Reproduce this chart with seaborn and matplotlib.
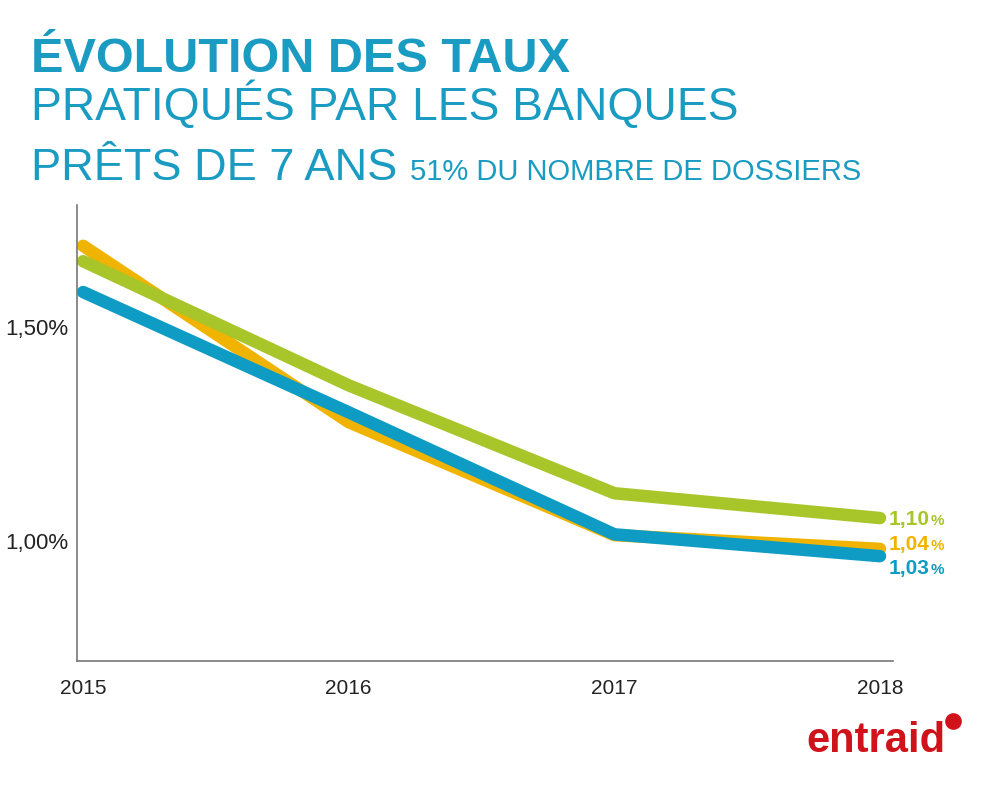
import pandas as pd
import seaborn as sns
import matplotlib.pyplot as plt
from matplotlib.lines import Line2D

years = [2015, 2016, 2017, 2018]
serie_jaune = [1.69, 1.278, 1.014, 0.982]
serie_verte = [1.654, 1.364, 1.112, 1.054]
serie_bleue = [1.582, 1.301, 1.016, 0.965]
end_labels = ["1,04", "1,10", "1,03"]
y_ticks = [1.0, 1.5]
y_tick_labels = ["1,00%", "1,50%"]

TEAL = "#1a9cc2"
colors = {"jaune": "#f0b400", "verte": "#a8c52a", "bleue": "#0e9cc4"}

df = pd.DataFrame({
    "annee": years * 3,
    "taux": serie_jaune + serie_verte + serie_bleue,
    "serie": ["jaune"] * 4 + ["verte"] * 4 + ["bleue"] * 4,
})

sns.set_style("white")
plt.rcParams['font.family'] = ['Liberation Sans', 'DejaVu Sans']

fig = plt.figure(figsize=(10, 7.86), dpi=100)
ax = fig.add_axes([0.077, 0.159, 0.816, 0.58])

sns.lineplot(data=df, x="annee", y="taux", hue="serie", hue_order=["jaune", "verte", "bleue"],
             palette=colors, linewidth=9, legend=False, ax=ax,
             solid_capstyle="round", solid_joinstyle="round")

ax.set_xlim(2014.977, 2018.049)
ax.set_ylim(0.72, 1.785)
ax.set_xticks(years)
ax.set_xticklabels([str(y) for y in years], fontsize=15, color="#222222")
ax.set_yticks(y_ticks)
ax.set_yticklabels(y_tick_labels, fontsize=16, color="#222222")
ax.tick_params(axis="x", length=5, width=1, color="#666666", pad=8)
ax.tick_params(axis="y", length=0, pad=6)
ax.set_xlabel("")
ax.set_ylabel("")
for side in ["top", "right"]:
    ax.spines[side].set_visible(False)
for side in ["left", "bottom"]:
    ax.spines[side].set_color("#777777")
    ax.spines[side].set_linewidth(1.2)

# end labels (offsets in points, labels stacked as in the original)
series = [("jaune", serie_jaune, 3), ("verte", serie_verte, -1), ("bleue", serie_bleue, -9)]
for (name, vals, dy), lab in zip(series, end_labels):
    t = ax.annotate(lab, xy=(years[-1], vals[-1]), xytext=(6, dy), textcoords="offset points",
                    ha="left", va="center", fontsize=15, fontweight="bold",
                    color=colors[name])
    ax.annotate("%", xy=(1, 0.5), xycoords=t, xytext=(1, -1), textcoords="offset points",
                ha="left", va="center", fontsize=11, fontweight="bold",
                color=colors[name])

# titles
fig.text(0.031, 0.908, "ÉVOLUTION DES TAUX", fontsize=35, fontweight="bold", color=TEAL,
         ha="left", va="baseline")
fig.text(0.031, 0.847, "PRATIQUÉS PAR LES BANQUES", fontsize=33.3, color=TEAL,
         ha="left", va="baseline")
fig.text(0.031, 0.771, "PRÊTS DE 7 ANS", fontsize=32.5, color=TEAL, ha="left", va="baseline")
fig.text(0.41, 0.771, "51% DU NOMBRE DE DOSSIERS", fontsize=21, color=TEAL,
         ha="left", va="baseline")

# logo
fig.text(0.806, 0.043, "entraid", fontsize=30, fontweight="bold", color="#d0121b",
         ha="left", va="baseline")
fig.add_artist(Line2D([0.953], [0.083], marker="o", markersize=11, color="#d0121b",
                      transform=fig.transFigure))

fig.savefig("out.png", dpi=100)
